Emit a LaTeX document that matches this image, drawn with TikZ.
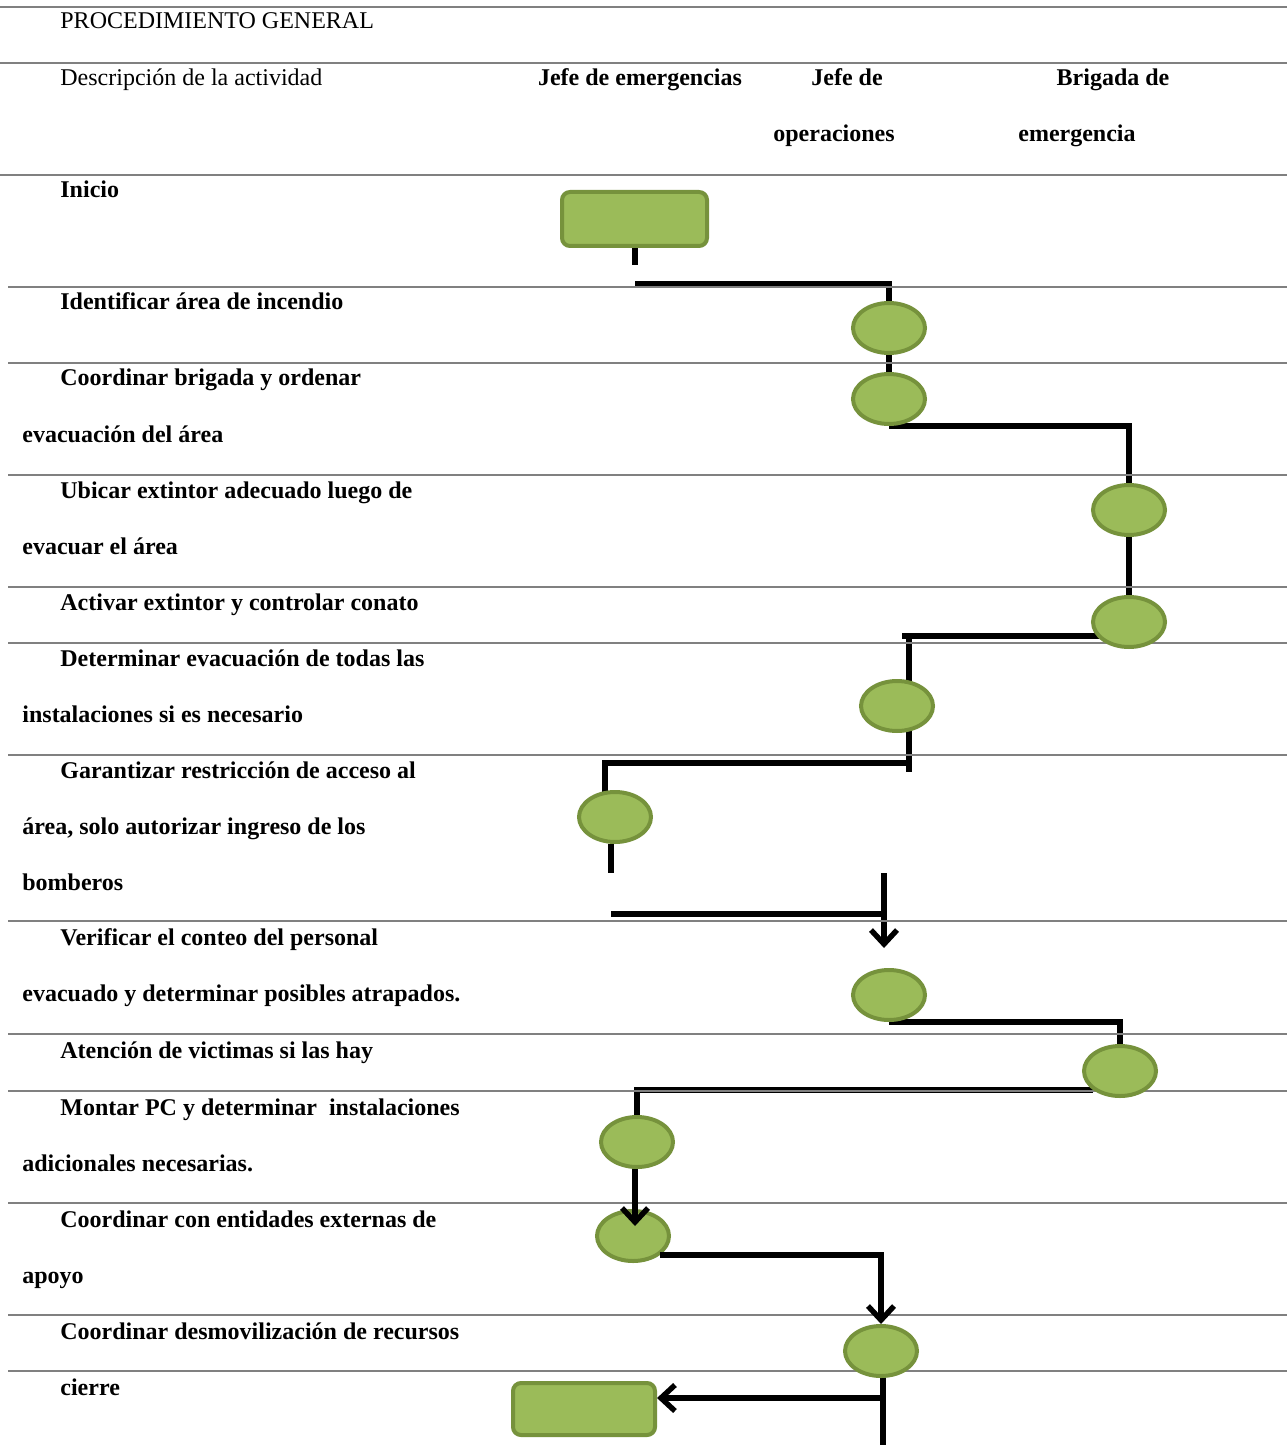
\documentclass[tikz,border=0pt]{standalone}
\usepackage{fontspec}
\setmainfont{Liberation Serif}
\usepackage{tikz}
\usetikzlibrary{arrows.meta,shapes.geometric,backgrounds}
\definecolor{fillg}{HTML}{9BBB59}
\definecolor{lineg}{HTML}{76923C}
\definecolor{rulegray}{HTML}{808080}

\begin{document}
\begin{tikzpicture}[x=0.5pt,y=-0.5pt,
  plain/.style={anchor=base west,inner sep=0pt,font=\fontsize{12}{14}\selectfont},
  desc/.style={plain,font=\fontsize{12}{14}\selectfont\bfseries},
  head/.style={anchor=base,inner sep=0pt,font=\fontsize{12}{14}\selectfont\bfseries},
  act/.style={draw=lineg,fill=fillg,line width=2pt,ellipse,minimum width=36pt,minimum height=25pt,inner sep=0pt},
  term/.style={draw=lineg,fill=fillg,line width=2pt,rounded corners=4pt,inner sep=0pt},
  flow/.style={line width=2.7pt,black},
  tip/.style={flow,-{Straight Barb[length=7pt,width=13pt]}}]
\useasboundingbox (0,0) rectangle (1287,1449);

% rules of the table
\foreach \y in {7,63,175}
  \draw[rulegray,line width=0.8pt] (0,\y) -- (1287,\y);
\foreach \y in {287,363,475,587,643,755,921,1034,1091,1203,1315,1371}
  \draw[rulegray,line width=0.8pt] (8,\y) -- (1287,\y);

% header
\node[plain] (titulo) at (60,29) {PROCEDIMIENTO GENERAL};
\node[plain] (descr) at (60,86) {Descripción de la actividad};
\node[head] (jefeem) at (640,86) {Jefe de emergencias};
\node[head] (jefeop) at (847,86) {Jefe de};
\node[head] (jefeop2) at (834,142) {operaciones};
\node[head] (brig) at (1113,86) {Brigada de};
\node[head] (brig2) at (1077,142) {emergencia};

% activities
\node[desc] (d1) at (60,198) {Inicio};
\node[desc] (d2) at (60,310) {Identificar área de incendio};
\node[desc] (d3) at (60,386) {Coordinar brigada y ordenar};
\node[desc] (d3b) at (22,442) {evacuación del área};
\node[desc] (d4) at (60,498) {Ubicar extintor adecuado luego de};
\node[desc] (d4b) at (22,554) {evacuar el área};
\node[desc] (d5) at (60,610) {Activar extintor y controlar conato};
\node[desc] (d6) at (60,666) {Determinar evacuación de todas las};
\node[desc] (d6b) at (22,722) {instalaciones si es necesario};
\node[desc] (d7) at (60,778) {Garantizar restricción de acceso al};
\node[desc] (d7b) at (22,834) {área, solo autorizar ingreso de los};
\node[desc] (d7c) at (22,890) {bomberos};
\node[desc] (d8) at (60,945) {Verificar el conteo del personal};
\node[desc] (d8b) at (22,1001) {evacuado y determinar posibles atrapados.};
\node[desc] (d9) at (60,1058) {Atención de victimas si las hay};
\node[desc] (d10) at (60,1115) {Montar PC y determinar\ \ instalaciones};
\node[desc] (d10b) at (22,1171) {adicionales necesarias.};
\node[desc] (d11) at (60,1227) {Coordinar con entidades externas de};
\node[desc] (d11b) at (22,1283) {apoyo};
\node[desc] (d12) at (60,1339) {Coordinar desmovilización de recursos};
\node[desc] (d13) at (60,1395) {cierre};

% flow shapes
\node[term,minimum width=72.5pt,minimum height=27pt] (ini) at (634.5,219) {};
\node[act] (e1) at (889,328) {};
\node[act] (e2) at (889,399) {};
\node[act] (e3) at (1129,510) {};
\node[act] (e4) at (1129,622) {};
\node[act] (e5) at (897,706) {};
\node[act] (e6) at (615,817) {};
\node[act] (e7) at (889,995) {};
\node[act] (e8) at (1120,1071) {};
\node[act] (e9) at (637,1142) {};
\node[act] (e10) at (633,1236) {};
\node[act] (e11) at (881,1351) {};
\node[term,minimum width=71pt,minimum height=26pt] (fin) at (584,1409) {};

\coordinate (c1) at (635,265);
\coordinate (c2) at (635,284);
\coordinate (c3) at (902,636);
\coordinate (c4) at (909,636);
\coordinate (c5) at (909,772);
\coordinate (c6) at (605,763);
\coordinate (c7) at (611,873);
\coordinate (c8) at (611,914);
\coordinate (c9) at (884,873);
\coordinate (c10) at (884,948);
\coordinate (c11) at (635,1226);
\coordinate (c12) at (883,1445);
\coordinate (c13) at (883,1398);

% connectors
\begin{scope}[on background layer]
\draw[flow] (ini.south -| c1) -- (c1);
\draw[flow] (c2) -| (e1.north);
\draw[flow] (e1.south) -- (e2.north);
\draw[flow] (e2.south) -| (e3.north);
\draw[flow] (e3.south) -- (e4.north);
\draw[flow] (c3) -- (c3 -| e4.south west);
\draw[flow] (c4) -- (c5);
\draw[flow] (c5 |- c6) -- (c6) -- (c6 |- e6.center);
\draw[flow] (e6.south -| c7) -- (c7);
\draw[flow] (c8) -- (c8 -| c9);
\draw[tip] (c9) -- (c10);
\draw[flow] (e7.south) -| (e8.north);
\draw[flow] (e8.south west) -| (e9.north);
\draw[flow] (e11.center -| c12) -- (c12);
\end{scope}
\draw[tip] (e9.south -| c11) -- (c11);
\draw[tip] (e10.south east) -| (e11.north);
\draw[tip] (c13) -- (c13 -| fin.east);
\end{tikzpicture}
\end{document}
